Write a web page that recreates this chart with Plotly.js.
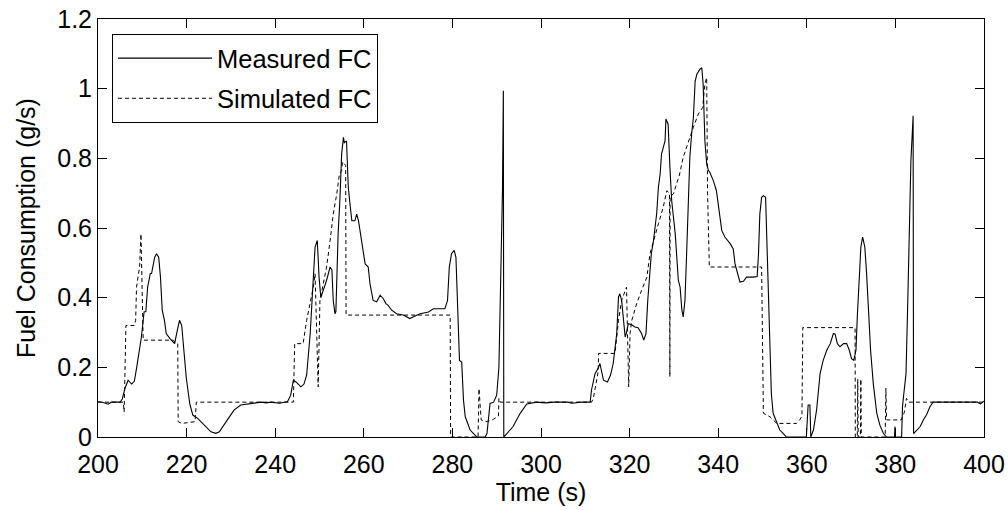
<!DOCTYPE html>
<html>
<head>
<meta charset="utf-8">
<script src="https://cdn.plot.ly/plotly-3.0.1.min.js"></script>
<style>html,body{margin:0;padding:0;background:#fff;}#chart{width:1008px;height:510px;}</style>
</head>
<body>
<div id="chart"></div>
<script>
// Measured fuel consumption (time s, g/s)
var measuredT = [200,201,202.3,203,205,205.5,206.1,206.8,207.6,208.2,208.7,209.1,209.8,210.4,210.8,211.2,211.8,212.1,212.4,212.8,213.2,213.7,214.1,214.5,215.0,215.4,216.2,217.3,217.9,218.4,218.9,219.4,219.9,220.7,221.4,222.5,224.0,225.5,226.6,227.4,229.2,230.7,232.2,234.5,236.8,238,239,241,242.8,243.5,244.1,244.7,245.8,246.5,247.1,247.9,248.6,249.0,249.5,249.9,250.3,250.9,251.6,252.4,252.8,253.1,253.5,253.7,254.2,254.6,255.0,255.4,255.6,256.1,256.5,256.8,257.3,258.0,258.4,258.8,259.5,260.3,261.0,261.4,262.1,262.9,263.7,264.4,265.0,265.5,266.3,267.4,268.9,270.4,271.2,272.7,274.6,275.7,277.2,278.3,278.9,279.3,279.8,280.4,280.8,281.1,281.6,282.1,282.5,282.9,284.0,285.5,287.4,287.8,288.5,289.3,290.0,290.5,291.0,291.3,291.5,291.6,292.3,293.7,295.3,296.8,299.0,301,303,306,307,309,311.1,311.4,312.2,312.9,313.3,314.1,315.0,315.7,316.3,316.7,317.1,317.5,317.8,318.2,318.6,319.0,319.3,319.7,320.5,321.2,321.9,322.7,323.2,323.7,324.1,324.5,324.9,325.4,326.1,326.5,326.9,327.2,327.6,328.0,328.2,328.7,329.1,329.5,329.9,330.3,330.6,331.0,331.4,331.8,332.1,332.5,332.9,333.3,333.6,334.0,334.4,334.8,335.2,335.9,336.3,336.6,337.0,337.4,337.8,338.1,338.9,339.6,340.1,340.8,341.5,342.7,343.4,343.8,344.2,344.9,345.7,346.4,347.9,348.8,349.1,349.4,349.8,350.2,350.7,350.9,351.3,351.7,352.0,352.4,353.2,353.9,354.7,355.4,359.9,360.3,360.7,360.9,361.5,362.2,363.0,363.7,364.5,365.3,366.0,366.4,366.9,367.5,368.3,369.0,369.6,370.1,370.6,371.1,371.4,371.9,372.2,372.6,373.1,373.5,373.9,374.4,375.0,375.8,376.5,377.3,378.0,379.8,379.9,380.0,381.4,381.6,381.9,382.4,382.8,383.1,383.5,383.8,384.0,384.1,384.8,385.6,386.3,387.0,387.8,388.5,389.2,395,398.5,399.2,400];
var measuredFC = [0.101,0.1,0.094,0.1,0.1,0.11,0.14,0.163,0.152,0.16,0.197,0.23,0.287,0.359,0.36,0.43,0.469,0.47,0.4925,0.516,0.526,0.516,0.459,0.364,0.335,0.297,0.283,0.268,0.306,0.335,0.32,0.249,0.173,0.0965,0.063,0.0535,0.034,0.015,0.0105,0.015,0.049,0.077,0.092,0.096,0.1,0.098,0.1,0.097,0.102,0.12,0.163,0.158,0.144,0.152,0.178,0.297,0.45,0.545,0.564,0.459,0.4,0.421,0.45,0.488,0.48,0.392,0.354,0.36,0.583,0.679,0.812,0.86,0.845,0.85,0.717,0.679,0.621,0.621,0.64,0.621,0.564,0.497,0.488,0.44,0.392,0.388,0.407,0.397,0.383,0.378,0.364,0.354,0.35,0.34,0.345,0.354,0.359,0.368,0.368,0.368,0.392,0.488,0.526,0.536,0.516,0.392,0.22,0.215,0.106,0.058,0.02,0.0,0.0,0.01,0.0965,0.1,0.12,0.2,0.488,0.707,0.994,0.0,0.01,0.03,0.068,0.095,0.1,0.098,0.1,0.1,0.097,0.1,0.1,0.135,0.182,0.197,0.211,0.163,0.158,0.178,0.211,0.249,0.297,0.402,0.411,0.392,0.335,0.287,0.3,0.325,0.322,0.316,0.314,0.297,0.278,0.297,0.392,0.459,0.526,0.564,0.64,0.717,0.755,0.812,0.831,0.85,0.913,0.898,0.774,0.679,0.631,0.583,0.526,0.45,0.43,0.364,0.345,0.392,0.536,0.66,0.803,0.87,0.917,1.022,1.042,1.056,1.06,1.013,0.85,0.784,0.765,0.76,0.736,0.707,0.66,0.593,0.574,0.555,0.54,0.497,0.478,0.445,0.447,0.459,0.459,0.461,0.526,0.64,0.688,0.693,0.688,0.602,0.392,0.249,0.124,0.068,0.039,0.02,0.01,0.0,0.0,0.092,0.092,0.0,0.02,0.077,0.182,0.22,0.249,0.268,0.297,0.295,0.268,0.259,0.268,0.268,0.249,0.225,0.22,0.249,0.345,0.488,0.545,0.574,0.545,0.469,0.373,0.249,0.154,0.068,0.034,0.01,0.0,0.0,0.03,0.0,0.0,0.087,0.124,0.182,0.392,0.583,0.793,0.87,0.922,0.01,0.02,0.03,0.049,0.063,0.087,0.1,0.1,0.1,0.1,0.095,0.103];

// Simulated fuel consumption (time s, g/s)
var simulatedT = [200,205.7,205.9,206.3,208.2,208.5,208.7,209.1,209.4,209.7,210.2,217.0,217.6,218.0,218.1,218.9,221.9,222.2,244.1,244.4,246.3,247.1,247.9,248.6,249.0,249.3,249.7,250.1,250.4,250.9,251.6,252.4,253.1,253.9,254.5,255.0,255.2,255.9,256.0,279.5,279.6,285.8,286.0,286.5,287.6,289.0,290.4,290.5,290.8,311.4,311.8,312.9,313.0,316.7,317.1,317.5,318.2,319.0,319.3,319.8,320.1,320.5,321.6,322.7,323.9,324.6,325.4,326.5,327.6,328.4,329.0,329.03,329.06,329.09,329.12,329.15,329.9,331.3,332.1,333.3,334.4,335.5,336.5,337.0,337.4,337.6,338.0,349.8,350.2,351.7,353.2,357.7,358.4,358.9,359.1,370.9,370.95,371.4,371.5,371.6,372.1,372.2,372.3,377.7,377.73,377.76,377.79,377.82,377.85,378.0,381.3,382.0,382.5,383.0,400];
var simulatedFC = [0.1,0.1,0.072,0.32,0.32,0.335,0.43,0.469,0.49,0.583,0.278,0.278,0.27,0.268,0.044,0.039,0.044,0.1,0.1,0.268,0.268,0.335,0.383,0.43,0.469,0.3,0.144,0.392,0.411,0.44,0.488,0.564,0.64,0.698,0.755,0.765,0.79,0.78,0.35,0.35,0.0,0.0,0.139,0.049,0.044,0.049,0.06,0.111,0.1,0.1,0.11,0.187,0.24,0.24,0.297,0.335,0.392,0.421,0.43,0.144,0.297,0.335,0.383,0.421,0.459,0.526,0.564,0.612,0.66,0.707,0.7,0.173,0.69,0.173,0.69,0.69,0.698,0.755,0.803,0.85,0.889,0.927,0.946,1.013,1.032,0.7,0.488,0.488,0.068,0.058,0.039,0.039,0.049,0.06,0.314,0.314,0.0,0.0,0.166,0.0,0.0,0.166,0.0,0.0,0.14,0.0,0.14,0.0,0.14,0.049,0.049,0.07,0.111,0.1,0.1];

var xTickVals = [200,220,240,260,280,300,320,340,360,380,400];
var yTickVals = [0,0.2,0.4,0.6,0.8,1,1.2];

var FONT = '"Liberation Sans", Arial, sans-serif';

var traces = [
  {x: measuredT, y: measuredFC, type: 'scatter', mode: 'lines', name: 'Measured FC',
   legendgroup: 'a', line: {color: '#000', width: 1.1}},
  {x: simulatedT, y: simulatedFC, type: 'scatter', mode: 'lines', name: 'Simulated FC',
   legendgroup: 'b', line: {color: '#000', width: 1, dash: '4px,3px'}}
];

var axisCommon = {
  showline: true, linecolor: '#000', linewidth: 1, mirror: 'ticks',
  ticks: 'inside', ticklen: 9, tickcolor: '#000', tickwidth: 1,
  showgrid: false, zeroline: false,
  tickfont: {family: FONT, size: 25, color: '#000'}
};

var layout = {
  width: 1008, height: 510,
  margin: {l: 98, r: 24, t: 19, b: 73},
  paper_bgcolor: '#fff', plot_bgcolor: '#fff',
  font: {family: FONT, size: 25, color: '#000'},
  xaxis: Object.assign({}, axisCommon, {
    range: [200, 400], tickmode: 'array', tickvals: xTickVals,
    ticktext: xTickVals.map(String), ticklabelstandoff: 5,
    title: {text: 'Time (s)', font: {family: FONT, size: 25, color: '#000'}, standoff: 1}
  }),
  yaxis: Object.assign({}, axisCommon, {
    range: [0, 1.2], tickmode: 'array', tickvals: yTickVals,
    ticktext: yTickVals.map(String),
    title: {text: 'Fuel Consumption (g/s)', font: {family: FONT, size: 25, color: '#000'}, standoff: 14}
  }),
  showlegend: true,
  legend: {
    x: 0.0158, y: 0.964, xanchor: 'left', yanchor: 'top',
    bgcolor: '#fff', bordercolor: '#000', borderwidth: 1,
    font: {family: FONT, size: 25.5, color: '#000'},
    traceorder: 'grouped', tracegroupgap: 4, itemwidth: 94
  }
};

Plotly.newPlot('chart', traces, layout, {displayModeBar: false, staticPlot: true});
</script>
</body>
</html>
